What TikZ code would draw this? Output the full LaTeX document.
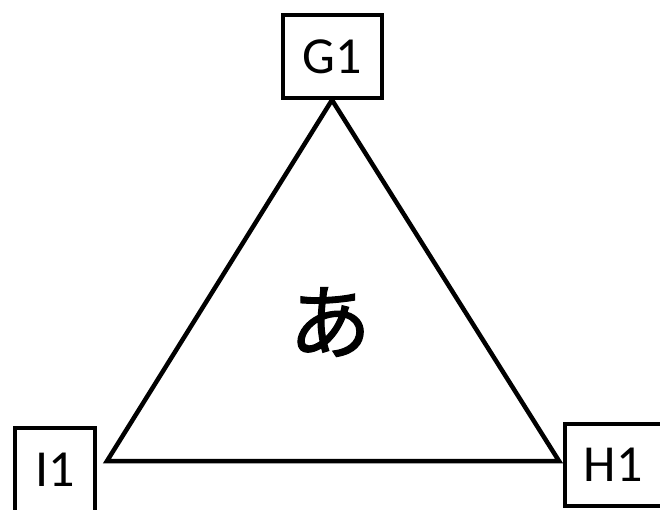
\documentclass[tikz,border=0pt]{standalone}
\usepackage{fontspec}
\setmainfont{Carlito}
\newfontfamily\cjk[FakeBold=1.5]{Noto Sans CJK JP}
\begin{document}
\begin{tikzpicture}[x=1pt,y=-1pt,
  lbox/.style={draw=black,line width=4.5pt,fill=white,minimum width=#1,inner sep=0pt,font=\fontsize{52}{60}\selectfont},
  edge/.style={line width=4.5pt,line join=miter}]
\useasboundingbox (0,0) rectangle (660,509);
\fill[white] (0,0) rectangle (660,509);
\coordinate (top) at (332,100);
\coordinate (left) at (107,461);
\coordinate (right) at (559,461);
\draw[edge] (top) -- (left) -- (right) -- cycle;
\node[lbox=99pt,minimum height=83pt] (G1) at (332.5,56.5) {G1};
\begin{scope}
\clip (0,0) rectangle (660,509);
\node[lbox=80pt,minimum height=84pt] (I1) at (55,470) {I1};
\node[lbox=102pt,minimum height=82pt] (H1) at (616,465) {H1\hspace*{6pt}};
\end{scope}
\node[font=\cjk\fontsize{82}{90}\selectfont,inner sep=0pt] (A) at (330,322) {あ};
\end{tikzpicture}
\end{document}
